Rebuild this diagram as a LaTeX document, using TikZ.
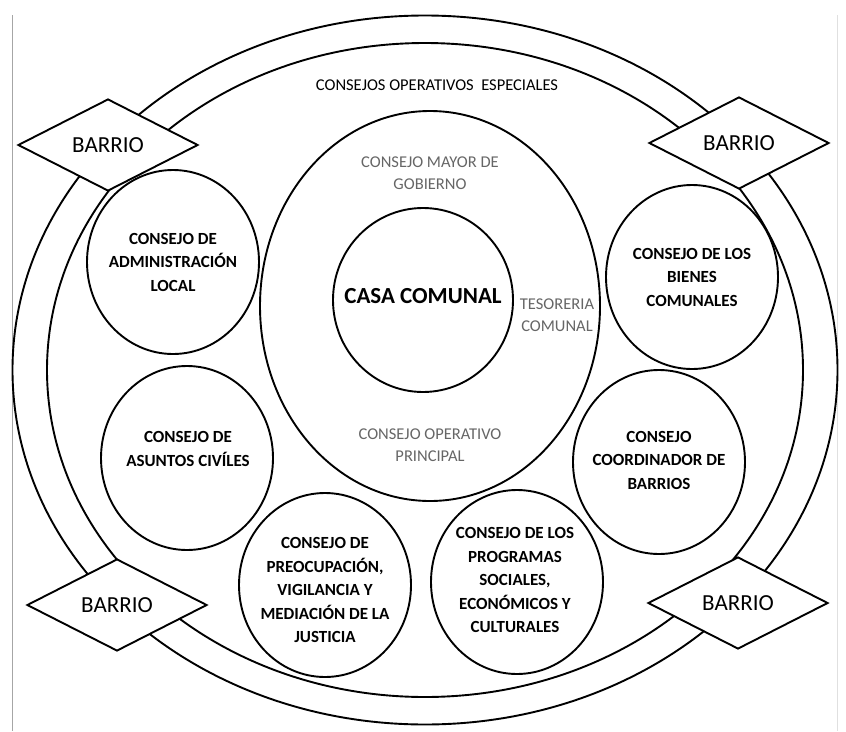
\documentclass[tikz,border=0pt]{standalone}
\usepackage{fontspec}
\setmainfont{Carlito}
\usetikzlibrary{shapes.geometric}

\begin{document}
\begin{tikzpicture}[x=1pt,y=-1pt,line width=1.9pt,
    anillo/.style={ellipse,draw,inner sep=0pt},
    consejo/.style={ellipse,draw,inner sep=0pt,minimum width=172,minimum height=184},
    texto/.style={align=center,font=\fontsize{17}{23.5}\selectfont\bfseries},
    gris/.style={align=center,text=black!60,font=\fontsize{16.5}{22}\selectfont},
    barrio/.style={diamond,draw,fill=white,aspect=2,minimum width=180,minimum height=92,
      inner sep=1pt,font=\fontsize{23}{26}\selectfont}]
  \useasboundingbox (0,0) rectangle (846,731);
  \fill[white] (0,0) rectangle (846,731);
  \draw[black!35,line width=1pt] (12,15) -- (12,731);
  \draw[black!12,line width=1pt] (837,15) -- (837,731);

  \node[anillo,minimum width=825,minimum height=709] (externo) at (425,370) {};
  \node[anillo,minimum width=756,minimum height=654] (interno) at (425,370) {};
  \node[font=\fontsize{16.5}{20}\selectfont] (especiales) at (437,85) {CONSEJOS OPERATIVOS\ \ ESPECIALES};

  \node[anillo,minimum width=340,minimum height=390] (mayor) at (430,306) {};
  \node[anillo,minimum width=180,minimum height=184] (casa) at (423,300) {};
  \node[font=\fontsize{23}{26}\selectfont\bfseries] (casa-t) at (423,296) {CASA COMUNAL};
  \node[gris] (mayor-t) at (430,173) {CONSEJO MAYOR DE\\GOBIERNO};
  \node[gris] (operativo-t) at (430,445) {CONSEJO OPERATIVO\\PRINCIPAL};
  \node[gris] (tesoreria-t) at (557,315) {TESORERIA\\COMUNAL};

  \node[consejo] (admin) at (173,262) {};
  \node[texto] (admin-t) at (admin) {CONSEJO DE\\ADMINISTRACIÓN\\LOCAL};
  \node[consejo] (civiles) at (187,458) {};
  \node[texto] (civiles-t) at (188,449) {CONSEJO DE\\ASUNTOS CIVÍLES};
  \node[consejo] (bienes) at (692,277) {};
  \node[texto] (bienes-t) at (bienes) {CONSEJO DE LOS\\BIENES\\COMUNALES};
  \node[consejo] (coordinador) at (659,462) {};
  \node[texto] (coordinador-t) at (659,460) {CONSEJO\\COORDINADOR DE\\BARRIOS};
  \node[consejo] (preocupacion) at (325,585) {};
  \node[texto] (preocupacion-t) at (325,590) {CONSEJO DE\\PREOCUPACIÓN,\\VIGILANCIA Y\\MEDIACIÓN DE LA\\JUSTICIA};
  \node[consejo] (programas) at (517,582) {};
  \node[texto] (programas-t) at (515,580) {CONSEJO DE LOS\\PROGRAMAS\\SOCIALES,\\ECONÓMICOS Y\\CULTURALES};

  \node[barrio] (barrio-no) at (108,145) {BARRIO};
  \node[barrio] (barrio-ne) at (739,143) {BARRIO};
  \node[barrio] (barrio-so) at (117,605) {BARRIO};
  \node[barrio] (barrio-se) at (738,603) {BARRIO};
\end{tikzpicture}
\end{document}
